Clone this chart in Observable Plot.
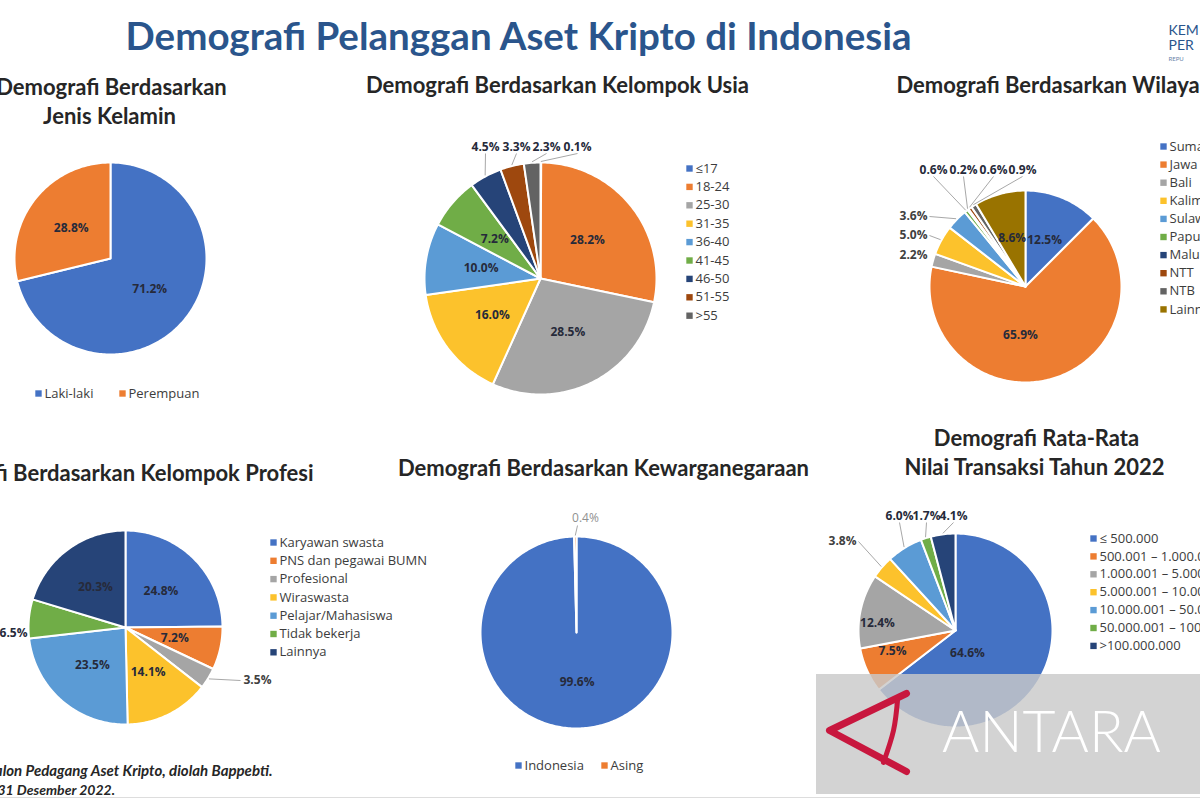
<!DOCTYPE html>
<html><head><meta charset="utf-8">
<script src="https://cdn.jsdelivr.net/npm/d3@7"></script>
<script src="https://cdn.jsdelivr.net/npm/@observablehq/plot@0.6"></script>
<style>html,body{margin:0;padding:0;background:#fff;overflow:hidden}svg{display:block}</style>
</head><body><div id="chart"></div>
<script>
// ---------- DATA ----------
const mainTitle = "Demografi Pelanggan Aset Kripto di Indonesia";

const genderCategories = ["Laki-laki", "Perempuan"];
const genderValues = [71.2, 28.8];

const ageCategories = ["≤17", "18-24", "25-30", "31-35", "36-40", "41-45", "46-50", "51-55", ">55"];
const ageValues = [0.1, 28.2, 28.5, 16.0, 10.0, 7.2, 4.5, 3.3, 2.3];

const regionCategories = ["Sumatera", "Jawa", "Bali", "Kalimantan", "Sulawesi", "Papua", "Maluku", "NTT", "NTB", "Lainnya"];
const regionValues = [12.5, 65.9, 2.2, 5.0, 3.6, 0.6, 0.2, 0.6, 0.9, 8.6];

const professionCategories = ["Karyawan swasta", "PNS dan pegawai BUMN", "Profesional", "Wiraswasta", "Pelajar/Mahasiswa", "Tidak bekerja", "Lainnya"];
const professionValues = [24.8, 7.2, 3.5, 14.1, 23.5, 6.5, 20.3];

const citizenshipCategories = ["Indonesia", "Asing"];
const citizenshipValues = [99.6, 0.4];

const transactionCategories = ["≤ 500.000", "500.001 – 1.000.000", "1.000.001 – 5.000.000", "5.000.001 – 10.000.000", "10.000.001 – 50.000.000", "50.000.001 – 100.000.000", ">100.000.000"];
const transactionValues = [64.6, 7.5, 12.4, 3.8, 6.0, 1.7, 4.1];

// ---------- STYLE / LAYOUT ----------
const palette = ["#4472c4", "#ed7d31", "#a5a5a5", "#fcc22c", "#5b9bd5", "#70ad47", "#264478", "#9e480e", "#636363", "#997300"];
const FONT = "Lato, 'Open Sans', sans-serif";
const SMALL = "'Open Sans', Lato, sans-serif";

const pies = [
  {cats: genderCategories, vals: genderValues, cx: 110, cy: 258, r: 96,
   titles: [{text: "Demografi Berdasarkan", x: 111, y: 87}, {text: "Jenis Kelamin", x: 109, y: 116}],
   legend: {dir: "h", xs: [38, 122], y: 393}, labels: {}},
  {cats: ageCategories, vals: ageValues, cx: 540, cy: 278, r: 116,
   titles: [{text: "Demografi Berdasarkan Kelompok Usia", x: 557, y: 85}],
   legend: {dir: "v", x: 689, y0: 168, dy: 18.4},
   labels: {"46-50": {x: 485, y: 147, leader: true}, "51-55": {x: 516, y: 147, leader: true},
            ">55": {x: 546, y: 147, leader: true}, "≤17": {x: 577, y: 147, leader: true}}},
  {cats: regionCategories, vals: regionValues, cx: 1025, cy: 286, r: 96,
   titles: [{text: "Demografi Berdasarkan Wilayah", x: 896, y: 85, anchor: "start"}],
   legend: {dir: "v", x: 1163, y0: 146, dy: 18.1},
   labels: {"Jawa": {x: 1020, y: 335},
            "Bali": {x: 927, y: 255, anchor: "end"},
            "Kalimantan": {x: 927, y: 235, anchor: "end", leader: true},
            "Sulawesi": {x: 927, y: 216, anchor: "end", leader: true},
            "Papua": {x: 933, y: 170, leader: true}, "Maluku": {x: 963, y: 170, leader: true},
            "NTT": {x: 993, y: 170, leader: true}, "NTB": {x: 1022, y: 170, leader: true}}},
  {cats: professionCategories, vals: professionValues, cx: 125, cy: 627, r: 97,
   titles: [{text: "Demografi Berdasarkan Kelompok Profesi", x: 313, y: 473, anchor: "end"}],
   legend: {dir: "v", x: 273, y0: 542, dy: 18.3},
   labels: {"Profesional": {x: 243, y: 680, anchor: "start", leader: true},
            "Tidak bekerja": {x: 13, y: 633}}},
  {cats: citizenshipCategories, vals: citizenshipValues, cx: 576, cy: 632, r: 96,
   titles: [{text: "Demografi Berdasarkan Kewarganegaraan", x: 603, y: 468}],
   legend: {dir: "h", xs: [518, 604], y: 765},
   labels: {"Asing": {x: 585, y: 518, leader: true, lx: 577, ly: 525, light: true}}},
  {cats: transactionCategories, vals: transactionValues, cx: 955, cy: 630, r: 97,
   titles: [{text: "Demografi Rata-Rata", x: 1036, y: 438}, {text: "Nilai Transaksi Tahun 2022", x: 1034, y: 467}],
   legend: {dir: "v", x: 1093, y0: 538, dy: 17.9},
   labels: {"≤ 500.000": {x: 967, y: 653}, "1.000.001 – 5.000.000": {x: 877, y: 623},
            "500.001 – 1.000.000": {x: 892, y: 651},
            "5.000.001 – 10.000.000": {x: 856, y: 541, anchor: "end", leader: true},
            "10.000.001 – 50.000.000": {x: 899, y: 516, leader: true},
            "50.000.001 – 100.000.000": {x: 926, y: 516, leader: true},
            ">100.000.000": {x: 953, y: 516, leader: true}}}
];

// ---------- BUILD MARK DATA ----------
const slicePts = [], labelsMid = [], labelsStart = [], labelsEnd = [], labelsLight = [], leaders = [];
const legendDots = [], legendTexts = [], titlesMid = [], titlesStart = [], titlesEnd = [];

pies.forEach((p, pi) => {
  const rows = p.cats.map((c, i) => ({cat: c, value: p.vals[i], color: palette[i]}));
  const arcs = d3.pie().sort(null).value(d => d.value)(rows);
  arcs.forEach((a, i) => {
    const key = pi + "-" + i, color = a.data.color;
    const n = Math.max(2, Math.ceil((a.endAngle - a.startAngle) / (Math.PI / 180)));
    slicePts.push({key, color, x: p.cx, y: p.cy});
    for (let k = 0; k <= n; k++) {
      const t = a.startAngle + (a.endAngle - a.startAngle) * k / n;
      slicePts.push({key, color, x: p.cx + p.r * Math.sin(t), y: p.cy - p.r * Math.cos(t)});
    }
    slicePts.push({key, color, x: p.cx, y: p.cy});
    const mid = (a.startAngle + a.endAngle) / 2;
    const text = a.data.value.toFixed(1) + "%";
    const o = p.labels[a.data.cat];
    if (!o) {
      const rr = p.r * 0.52;
      labelsMid.push({x: p.cx + rr * Math.sin(mid), y: p.cy - rr * Math.cos(mid), text});
    } else {
      const lab = {x: o.x, y: o.y, text};
      if (o.light) labelsLight.push(lab);
      else if (o.anchor === "start") labelsStart.push(lab);
      else if (o.anchor === "end") labelsEnd.push(lab);
      else labelsMid.push(lab);
      if (o.leader) {
        let lx, ly;
        if (o.lx !== undefined) { lx = o.lx; ly = o.ly; }
        else if (o.anchor === "end") { lx = o.x + 2; ly = o.y; }
        else if (o.anchor === "start") { lx = o.x - 3; ly = o.y; }
        else { lx = o.x; ly = o.y + 6; }
        leaders.push({x1: lx, y1: ly, x2: p.cx + (p.r + 1) * Math.sin(mid), y2: p.cy - (p.r + 1) * Math.cos(mid)});
      }
    }
  });
  rows.forEach((d, i) => {
    let x, y;
    if (p.legend.dir === "h") { x = p.legend.xs[i]; y = p.legend.y; }
    else { x = p.legend.x; y = p.legend.y0 + i * p.legend.dy; }
    legendDots.push({x, y, color: d.color});
    legendTexts.push({x: x + 6, y, text: d.cat});
  });
  p.titles.forEach(t => {
    (t.anchor === "start" ? titlesStart : t.anchor === "end" ? titlesEnd : titlesMid).push(t);
  });
});

// decorations: watermark box and logo
const watermark = [{x1: 816, x2: 1200, y1: 674, y2: 794}];
const logoStroke = [{x: 906, y: 693}, {x: 829, y: 730}, {x: 906, y: 771}];
const logoCurve = [{x: 897, y: 700}, {x: 893, y: 730}, {x: 883, y: 762}];

const chart = Plot.plot({
  width: 1200, height: 800,
  margin: 0,
  x: {domain: [0, 1200], range: [0, 1200], axis: null},
  y: {domain: [0, 800], range: [0, 800], axis: null},
  style: {fontFamily: FONT, background: "#fff"},
  marks: [
    Plot.line(slicePts, {x: "x", y: "y", z: "key", fill: "color", stroke: "#fff", strokeWidth: 2, strokeLinejoin: "round", curve: "linear"}),
    Plot.link(leaders, {x1: "x1", y1: "y1", x2: "x2", y2: "y2", stroke: "#a8a8a8", strokeWidth: 1}),
    Plot.text(labelsMid, {x: "x", y: "y", text: "text", fontSize: 12, fontWeight: "bold", fill: "#262a3a", fontFamily: SMALL}),
    Plot.text(labelsStart, {x: "x", y: "y", text: "text", textAnchor: "start", fontSize: 12, fontWeight: "bold", fill: "#404040", fontFamily: SMALL}),
    Plot.text(labelsEnd, {x: "x", y: "y", text: "text", textAnchor: "end", fontSize: 12, fontWeight: "bold", fill: "#404040", fontFamily: SMALL}),
    Plot.text(labelsLight, {x: "x", y: "y", text: "text", fontSize: 12, fill: "#909090", fontFamily: SMALL}),
    Plot.dot(legendDots, {x: "x", y: "y", fill: "color", symbol: "square", r: 3.6}),
    Plot.text(legendTexts, {x: "x", y: "y", text: "text", textAnchor: "start", fontSize: 13, fill: "#3c3c3c", fontFamily: SMALL}),
    Plot.text(titlesMid, {x: "x", y: "y", text: "text", fontSize: 22, fontWeight: "bold", fill: "#262626"}),
    Plot.text(titlesStart, {x: "x", y: "y", text: "text", textAnchor: "start", fontSize: 22, fontWeight: "bold", fill: "#262626"}),
    Plot.text(titlesEnd, {x: "x", y: "y", text: "text", textAnchor: "end", fontSize: 22, fontWeight: "bold", fill: "#262626"}),
    Plot.text([mainTitle], {x: () => 518, y: () => 37, text: d => d, fontSize: 38.5, fontWeight: "bold", fill: "#2a558c"}),
    Plot.text(["KEM", "PER"], {x: () => 1168, y: (d, i) => 30 + i * 15, text: d => d, textAnchor: "start", fontSize: 14, fill: "#2a558c"}),
    Plot.text(["REPU"], {x: () => 1168, y: () => 59, text: d => d, textAnchor: "start", fontSize: 6, fill: "#6b86aa"}),
    Plot.text(["Calon Pedagang Aset Kripto, diolah Bappebti."], {x: () => 272, y: () => 771, text: d => d, textAnchor: "end", fontSize: 15, fontWeight: "bold", fontStyle: "italic", fill: "#262626"}),
    Plot.text(["31 Desember 2022."], {x: () => -3, y: () => 790, text: d => d, textAnchor: "start", fontSize: 14, fontWeight: "bold", fontStyle: "italic", fill: "#262626"}),
    Plot.rect(watermark, {x1: "x1", x2: "x2", y1: "y1", y2: "y2", fill: "#c9c9c9", fillOpacity: 0.82}),
    Plot.line(logoStroke, {x: "x", y: "y", stroke: "#c8173e", strokeWidth: 7, strokeLinejoin: "round"}),
    Plot.line(logoCurve, {x: "x", y: "y", stroke: "#c8173e", strokeWidth: 5, curve: "natural"}),
    Plot.text(["ANTARA"], {x: () => 1051, y: () => 733, text: d => d, fontSize: 57, fontWeight: 300, fill: "#ffffff", fontFamily: "Lato, sans-serif"}),
    Plot.ruleY([797], {stroke: "#dddddd"})
  ]
});
document.getElementById("chart").appendChild(chart);
</script>
</body></html>
